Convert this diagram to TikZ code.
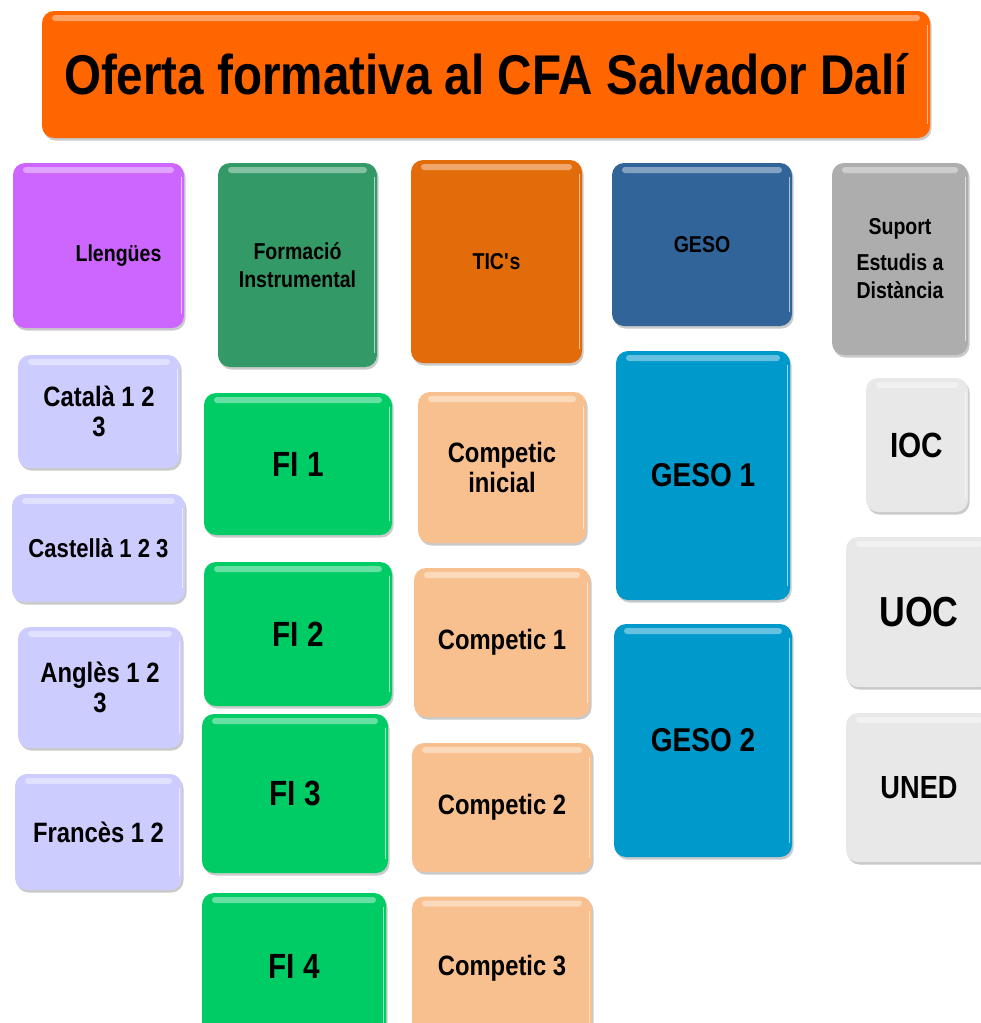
\documentclass[tikz,border=0pt]{standalone}
\usepackage{fontspec}
\setmainfont{Liberation Sans}[FakeStretch=0.85]
\usetikzlibrary{shadows}

\definecolor{titleorange}{HTML}{FF6600}
\definecolor{llengcol}{HTML}{CC66FF}
\definecolor{formcol}{HTML}{339966}
\definecolor{ticcol}{HTML}{E36C0A}
\definecolor{gesocol}{HTML}{31659A}
\definecolor{suportcol}{HTML}{ADADAD}
\definecolor{langcol}{HTML}{CCCCFF}
\definecolor{ficol}{HTML}{00CC66}
\definecolor{compcol}{HTML}{F9C08F}
\definecolor{gesonum}{HTML}{0099CC}
\definecolor{unicol}{HTML}{E8E8E8}

\begin{document}
\begin{tikzpicture}[
    x=1pt, y=-1pt,
    tile/.style={rectangle, rounded corners=12pt, fill=#1, text centered, align=center, inner sep=0pt,
        drop shadow={shadow xshift=1.5pt, shadow yshift=-2.5pt, opacity=0.35, fill=black!60},
        path picture={
            \fill[white, opacity=0.4, rounded corners=3pt]
                ([xshift=10pt, yshift=-4pt]path picture bounding box.north west)
                rectangle ([xshift=-10pt, yshift=-10pt]path picture bounding box.north east);
            \draw[white, opacity=0.6, line width=1.5pt]
                ([xshift=-2.5pt, yshift=-14pt]path picture bounding box.north east)
                -- ([xshift=-2.5pt, yshift=14pt]path picture bounding box.south east);
        }},
    titlebox/.style={tile=titleorange, font=\bfseries\fontsize{56}{60}\selectfont},
    headbox/.style={tile=#1, font=\bfseries\fontsize{23}{28}\selectfont},
    langbox/.style={tile=langcol, font=\bfseries\fontsize{28}{30}\selectfont},
    fibox/.style={tile=ficol, font=\bfseries\fontsize{35}{38}\selectfont},
    compbox/.style={tile=compcol, font=\bfseries\fontsize{28}{30}\selectfont},
    gesobox/.style={tile=gesonum, font=\bfseries\fontsize{33}{36}\selectfont},
    unibox/.style={tile=unicol, font=\bfseries\fontsize{35}{38}\selectfont}
]
    \useasboundingbox (0,0) rectangle (981,1023);
    \clip (0,0) rectangle (981,1023);

    % title
    \node[titlebox, minimum width=888pt, minimum height=127pt] (title) at (486,74.5)
        {Oferta formativa al CFA Salvador Dalí};

    % headers
    \node[headbox=llengcol, minimum width=171pt, minimum height=165pt, text height=37pt, text depth=5pt] (llengues) at (98.5,245.5)
        {\hspace*{40pt}Llengües};
    \node[headbox=formcol, minimum width=159pt, minimum height=204pt] (formacio) at (297.5,265)
        {Formació\\Instrumental};
    \node[headbox=ticcol, minimum width=171pt, minimum height=203pt] (tics) at (496.5,261.5)
        {TIC\textquotesingle s};
    \node[headbox=gesocol, minimum width=180pt, minimum height=163pt] (geso) at (702,244.5)
        {GESO};
    \node[headbox=suportcol, minimum width=136pt, minimum height=192pt] (suport) at (900,259)
        {Suport\\[8pt]Estudis a\\Distància};

    % llengues
    \node[langbox, minimum width=162pt, minimum height=113pt] (catala) at (99,411.5)
        {Català 1 2\\3};
    \node[langbox, minimum width=173pt, minimum height=108pt, font=\bfseries\fontsize{26}{28}\selectfont] (castella) at (98.5,548)
        {Castellà 1 2 3};
    \node[langbox, minimum width=164pt, minimum height=121pt] (angles) at (100,687.5)
        {Anglès 1 2\\3};
    \node[langbox, minimum width=167pt, minimum height=116pt] (frances) at (98.5,832)
        {Francès 1 2};

    % formacio instrumental
    \node[fibox, minimum width=188pt, minimum height=142pt] (fi1) at (298,464) {FI 1};
    \node[fibox, minimum width=188pt, minimum height=144pt] (fi2) at (298,634) {FI 2};
    \node[fibox, minimum width=186pt, minimum height=159pt] (fi3) at (295,793.5) {FI 3};
    \node[fibox, minimum width=184pt, minimum height=147pt] (fi4) at (294,966.5) {FI 4};

    % tic
    \node[compbox, minimum width=168pt, minimum height=151pt] (compi) at (502,467.5) {Competic\\inicial};
    \node[compbox, minimum width=176pt, minimum height=149pt] (comp1) at (502,642.5) {Competic 1};
    \node[compbox, minimum width=180pt, minimum height=129pt] (comp2) at (502,807.5) {Competic 2};
    \node[compbox, minimum width=180pt, minimum height=143pt] (comp3) at (502,968) {Competic 3};

    % geso
    \node[gesobox, minimum width=174pt, minimum height=249pt] (geso1) at (703,475.5) {GESO 1};
    \node[gesobox, minimum width=178pt, minimum height=233pt] (geso2) at (703,740.5) {GESO 2};

    % estudis a distancia
    \node[unibox, minimum width=102pt, minimum height=134pt] (ioc) at (917,445) {IOC};
    \node[unibox, minimum width=146pt, minimum height=150pt, font=\bfseries\fontsize{42}{46}\selectfont] (uoc) at (919,612) {UOC};
    \node[unibox, minimum width=146pt, minimum height=149pt, font=\bfseries\fontsize{32}{36}\selectfont] (uned) at (919,787.5) {UNED};
\end{tikzpicture}
\end{document}
